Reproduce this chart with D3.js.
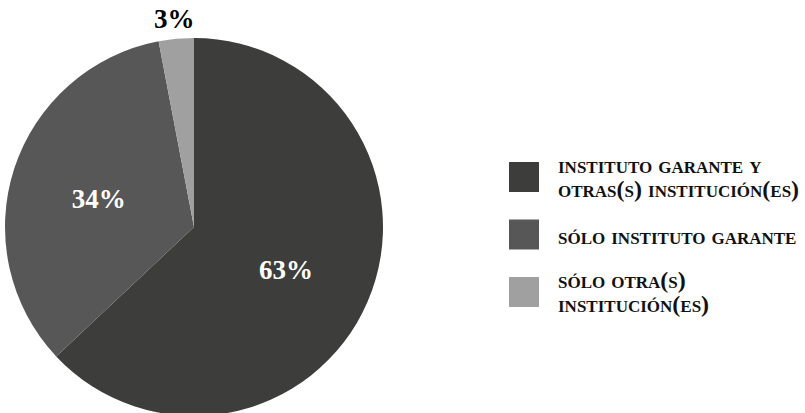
<!DOCTYPE html>
<html>
<head>
<meta charset="utf-8">
<script src="https://cdn.jsdelivr.net/npm/d3@7"></script>
<style>
    body { margin: 0; background: #fff; }
    svg text { font-family: "Liberation Serif", "DejaVu Serif", serif; font-weight: bold; }
</style>
</head>
<body>
<script>
// categories, values and colours of the pie
var categories = [
    ["instituto garante y", "otras(s) institución(es)"],
    ["sólo instituto garante"],
    ["sólo otra(s)", "institución(es)"]
];
var values = [63, 34, 3];
var colors = ["#3d3d3b", "#575757", "#a0a0a0"];

window.onload = function () {

    var w = 805, h = 413;
    var cx = 194, cy = 227, radius = 189;

    var svg = d3.select("body")
        .append("svg")
        .attr("width", w)
        .attr("height", h);

    var pie = d3.pie()
        .sort(null)
        .value(function (d) { return d; });

    var arcs = pie(values);

    var arc = d3.arc()
        .innerRadius(0)
        .outerRadius(radius);

    //label arcs, one inside the slice and one just outside for thin slices
    var labelArc = d3.arc().innerRadius(radius * 0.53).outerRadius(radius * 0.53);
    var outerArc = d3.arc().innerRadius(radius + 20).outerRadius(radius + 20);

    var g = svg.append("g")
        .attr("transform", "translate(" + cx + "," + cy + ")");

    g.selectAll(".slice")
        .data(arcs)
        .enter()
        .append("path")
        .attr("class", "slice")
        .attr("d", arc)
        .style("fill", function (d, i) { return colors[i]; });

    var total = d3.sum(values);

    g.selectAll(".pct")
        .data(arcs)
        .enter()
        .append("text")
        .attr("class", "pct")
        .attr("text-anchor", "middle")
        .attr("dy", "0.35em")
        .attr("transform", function (d) {
            var small = d.value / total < 0.05;
            var c = small ? outerArc.centroid(d) : labelArc.centroid(d);
            if (!small) c[1] += 3;
            return "translate(" + c[0] + "," + c[1] + ")";
        })
        .style("font-size", "27px")
        .style("fill", function (d) { return d.value / total < 0.05 ? "#000" : "#fff"; })
        .text(function (d) { return Math.round(d.value / total * 100) + "%"; });

    //legend
    var legY = d3.scalePoint()
        .domain(d3.range(categories.length))
        .range([162, 277]);

    var legend = svg.selectAll(".legend")
        .data(categories)
        .enter()
        .append("g")
        .attr("class", "legend")
        .attr("transform", function (d, i) { return "translate(509," + legY(i) + ")"; });

    legend.append("rect")
        .attr("width", 30)
        .attr("height", 30)
        .style("fill", function (d, i) { return colors[i]; });

    var label = legend.append("text")
        .attr("x", 49)
        .attr("y", function (d) { return d.length > 1 ? 11 : 24; })
        .style("font-size", "24px")
        .style("font-variant", "small-caps")
        .style("fill", "#111");

    label.selectAll("tspan")
        .data(function (d) { return d; })
        .enter()
        .append("tspan")
        .attr("x", 49)
        .attr("dy", function (d, i) { return i === 0 ? 0 : 24; })
        .text(function (d) { return d; });
};
</script>
</body>
</html>
